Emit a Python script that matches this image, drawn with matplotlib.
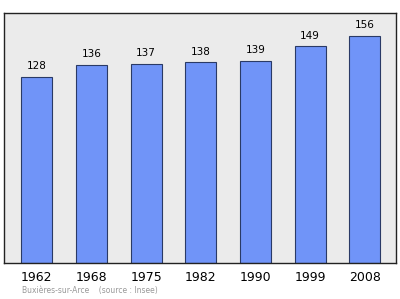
import matplotlib
matplotlib.use('Agg')
import matplotlib.pyplot as plt

years = ['1962', '1968', '1975', '1982', '1990', '1999', '2008']
population = [128, 136, 137, 138, 139, 149, 156]

fig = plt.figure(figsize=(4, 2.99), dpi=100)
ax = fig.add_axes([0.01, 0.12, 0.98, 0.837])
ax.set_facecolor('#ebebeb')

x = range(len(years))
ax.bar(x, population, width=0.57, color='#7094f8', edgecolor='#2a3a66', linewidth=0.8)
for xi, v in zip(x, population):
    ax.text(xi, v + 4, str(v), ha='center', va='bottom', fontsize=7.5)

ax.set_xlim(-0.6, 6.57)
ax.set_ylim(0, 172)
ax.set_xticks(list(x))
ax.set_xticklabels(years, fontsize=9)
ax.tick_params(axis='x', length=0, pad=6)
ax.set_yticks([])
for s in ax.spines.values():
    s.set_linewidth(1.0)
    s.set_color('#222222')

fig.text(0.055, 0.02, 'Buxières-sur-Arce    (source : Insee)', fontsize=5.5, color='#999999')

fig.savefig('out.png', dpi=100)
